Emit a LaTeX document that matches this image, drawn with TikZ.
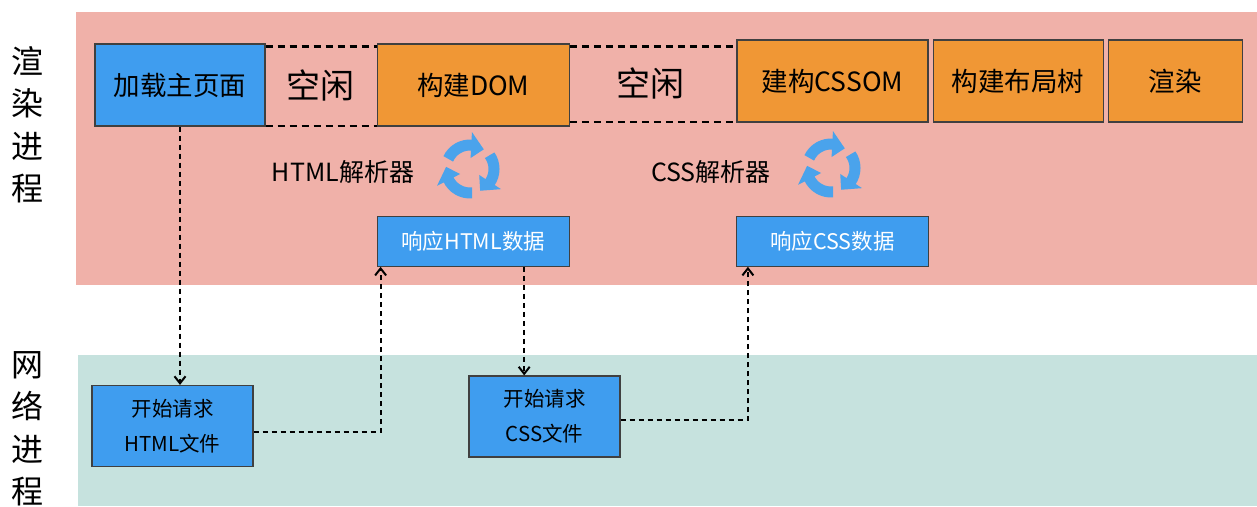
\documentclass[tikz,border=0pt]{standalone}
\usepackage{fontspec}
\setmainfont{Noto Sans CJK SC}
\usetikzlibrary{positioning,arrows.meta}
\definecolor{renderBg}{HTML}{F0B1A9}
\definecolor{netBg}{HTML}{C6E2DE}
\definecolor{stageBlue}{HTML}{3F9DEF}
\definecolor{stageOrange}{HTML}{F09735}
\definecolor{loopBlue}{HTML}{4AA3EC}
\tikzset{
  stage/.style={rectangle, fill=stageOrange, draw=black!75, line width=1.2pt, inner sep=0pt, minimum height=82pt, font=\fontsize{26.5}{30}\selectfont},
  blueStage/.style={stage, fill=stageBlue},
  respBox/.style={rectangle, fill=stageBlue, draw=black!75, line width=1.2pt, inner sep=0pt, minimum width=192pt, minimum height=50pt, text=white, font=\fontsize{21.5}{25}\selectfont},
  netBox/.style={rectangle, fill=stageBlue, draw=black!75, line width=1.2pt, inner sep=0pt, minimum height=81pt, align=center, font=\fontsize{20.5}{35}\selectfont},
  idleText/.style={font=\fontsize{34}{40}\selectfont, inner sep=0pt},
  parserText/.style={font=\fontsize{25}{28}\selectfont, inner sep=0pt},
  sideLabel/.style={align=center, inner sep=0pt, font=\fontsize{32}{42.5}\selectfont},
  idleLine/.style={line width=2.2pt, dash pattern=on 7pt off 5pt},
  request/.style={-{Straight Barb[length=7pt,width=11pt]}, line width=2pt, dash pattern=on 5pt off 4pt},
  loopArc/.style={loopBlue, line width=11pt},
  loopHead/.style={fill=loopBlue}
}
\begin{document}
\begin{tikzpicture}[x=1pt, y=-1pt]
  \useasboundingbox (0,0) rectangle (1257,506);
  % process bands
  \fill[renderBg] (76,12) rectangle (1257,285);
  \fill[netBg] (78,355) rectangle (1257,506);
  \node[sideLabel] (renderLabel) at (28,125) {渲\\染\\进\\程};
  \node[sideLabel] (netLabel) at (28,429) {网\\络\\进\\程};
  % render process
  \node[blueStage, minimum width=170pt] (load) at (180,85) {加载主页面};
  \node[stage, minimum width=192pt, right=111pt of load] (dom) {构建DOM};
  \node[stage, minimum width=191pt] (cssom) at (832.5,81) {建构CSSOM};
  \node[stage, minimum width=170pt, right=4pt of cssom] (layout) {构建布局树};
  \node[stage, minimum width=134pt, right=4pt of layout] (paint) {渲染};
  \node[idleText] (idleA) at (320,85) {空闲};
  \node[idleText] (idleB) at (650,83) {空闲};
  \draw[idleLine] ([yshift=-3pt]load.north east) -- ([yshift=-3pt]dom.north west);
  \draw[idleLine] ([yshift=1pt]load.south east) -- ([yshift=1pt]dom.south west);
  \draw[idleLine] ([yshift=-3pt]dom.north east) -- ([yshift=-7pt]cssom.north west);
  \draw[idleLine] ([yshift=5pt]dom.south east) -- ([yshift=1pt]cssom.south west);
  \node[parserText] (htmlParser) at (343,172) {HTML解析器};
  \node[parserText] (cssParser) at (711,172) {CSS解析器};
  \coordinate (htmlLoop) at (470,169);
  \coordinate (cssLoop) at (831,168);
  % parser loops
  \foreach \loopc in {htmlLoop,cssLoop}
    \foreach \ang in {155,35,-85} {
      \pgfmathsetmacro\angEnd{\ang-70}
      \pgfmathsetmacro\angBase{\ang-68}
      \pgfmathsetmacro\angTip{\ang-100}
      \begin{scope}[shift={(\loopc)}]
        \draw[loopArc] (\ang:24pt) arc[start angle=\ang, end angle=\angEnd, radius=24pt];
        \fill[loopHead] (\angBase:37pt) -- (\angBase:11pt) -- (\angTip:24pt) -- cycle;
      \end{scope}
    }
  \node[respBox, below=89pt of dom] (hresp) {响应HTML数据};
  \node[respBox, below=93pt of cssom] (cresp) {响应CSS数据};
  % network process
  \node[netBox, minimum width=161pt] (hreq) at (172.5,426) {开始请求\\HTML文件};
  \node[netBox, minimum width=151pt] (creq) at (544.5,416.5) {开始请求\\CSS文件};
  \coordinate (htmlIn) at ([xshift=4pt]hresp.south west);
  \coordinate (cssOut) at ([xshift=51pt]hresp.south);
  \coordinate (cssIn) at ([xshift=12pt]cresp.south west);
  \draw[request] (load.south) -- (load.south |- hreq.north);
  \draw[request] ([yshift=-6pt]hreq.east) -| (htmlIn);
  \draw[request] (cssOut) -- (cssOut |- creq.north);
  \draw[request] ([yshift=-3.5pt]creq.east) -| (cssIn);
\end{tikzpicture}
\end{document}
